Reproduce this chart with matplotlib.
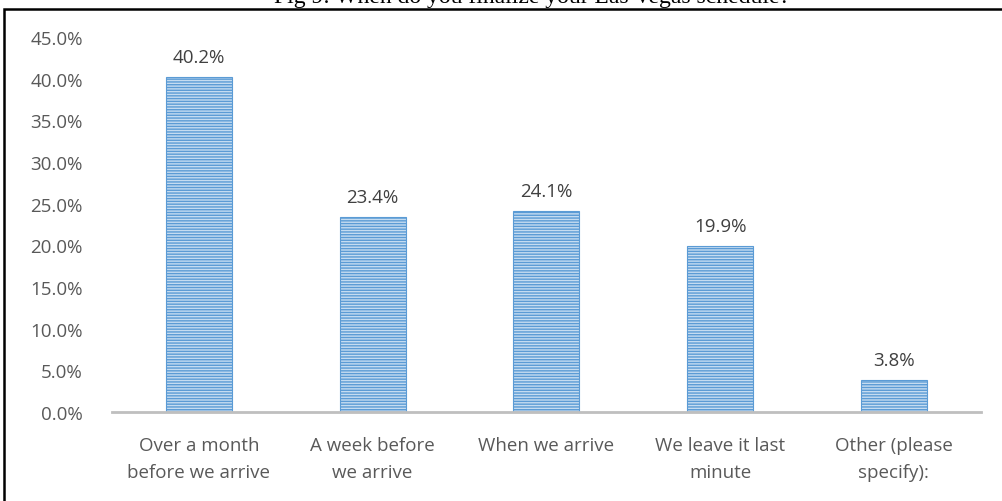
import matplotlib.pyplot as plt
from matplotlib.patches import Rectangle

categories = ['Over a month\nbefore we arrive', 'A week before\nwe arrive', 'When we arrive',
              'We leave it last\nminute', 'Other (please\nspecify):']
values = [40.2, 23.4, 24.1, 19.9, 3.8]
yticks = [0, 5, 10, 15, 20, 25, 30, 35, 40, 45]

plt.rcParams['hatch.linewidth'] = 1.0
plt.rcParams['hatch.color'] = '#5B9BD5'

fig = plt.figure(figsize=(10.03, 5.02), dpi=100)
ax = fig.add_axes([0.1117, 0.1773, 0.866, 0.747])

x = list(range(len(values)))
bars = ax.bar(x, values, width=0.38, color='#C5DCF1', edgecolor='#5B9BD5',
              linewidth=0.8, hatch='------')

for xi, v in zip(x, values):
    ax.text(xi, v + 1.3, f'{v:.1f}%', ha='center', va='bottom',
            fontsize=13.5, color='#404040', family='Open Sans')

ax.set_xlim(-0.5, 4.5)
ax.set_ylim(0, 45)
ax.set_yticks(yticks)
ax.set_yticklabels([f'{t:.1f}%' for t in yticks], fontsize=13.5, color='#595959',
                   family='Open Sans')
ax.set_xticks(x)
ax.set_xticklabels(categories, fontsize=13.5, color='#595959', family='Open Sans',
                   linespacing=1.65)
ax.tick_params(axis='both', length=0)
ax.tick_params(axis='y', pad=21)
ax.tick_params(axis='x', pad=17)

for s in ['top', 'right', 'left']:
    ax.spines[s].set_visible(False)
ax.spines['bottom'].set_color('#BFBFBF')
ax.spines['bottom'].set_linewidth(2)

# outer border box, cut off at right and bottom
fig.patches.append(Rectangle((4 / 1003, -0.1), 1.2, 1.1 - 10 / 502,
                             transform=fig.transFigure, fill=False,
                             edgecolor='black', linewidth=1.8))

fig.text(0.53, 1 - 3 / 502, 'Fig 9: When do you finalize your Las Vegas schedule?',
         ha='center', va='baseline', fontsize=17, family='Liberation Serif')

fig.savefig('out.png', dpi=100)
